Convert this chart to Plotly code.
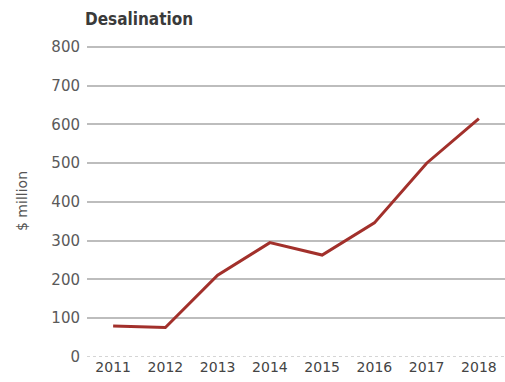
import plotly.graph_objects as go

years = ["2011", "2012", "2013", "2014", "2015", "2016", "2017", "2018"]
spend_musd = [80, 76, 211, 295, 263, 346, 500, 615]
y_ticks = [0, 100, 200, 300, 400, 500, 600, 700, 800]

fig = go.Figure()
fig.add_trace(go.Scatter(
    x=years, y=spend_musd, mode="lines",
    line=dict(color="#a2302b", width=3),
    hoverinfo="skip",
))

# dotted baseline at zero
fig.add_hline(y=0, line=dict(color="#c8c8c8", width=1.5, dash="dot"), layer="below")

fig.update_layout(
    width=505, height=382,
    margin=dict(l=87, r=0, t=45, b=25),
    paper_bgcolor="white", plot_bgcolor="white",
    showlegend=False,
    font=dict(family="DejaVu Sans", color="#555555", size=14),
    title=dict(
        text="<b>Desalination</b>",
        font=dict(family="DejaVu Sans Condensed, Liberation Sans Narrow, sans-serif", size=17, color="#3a3a3a"),
        x=85 / 505, xanchor="left", xref="container",
        y=1 - 19 / 382, yanchor="middle", yref="container",
    ),
    xaxis=dict(
        type="category", range=[-0.5, 7.5],
        showgrid=False, zeroline=False, showline=False, ticks="",
        tickfont=dict(size=14, color="#444444"),
    ),
    yaxis=dict(
        range=[0, 805], tickvals=y_ticks,
        showgrid=True, gridcolor="#bdbdbd", gridwidth=1.8,
        zeroline=False, showline=False, ticks="",
        ticklabelstandoff=6,
        tickfont=dict(size=15, color="#5a5a5a"),
        title=dict(text="$ million", font=dict(size=14, color="#555555"), standoff=20),
    ),
)

fig.write_html("out.html")
